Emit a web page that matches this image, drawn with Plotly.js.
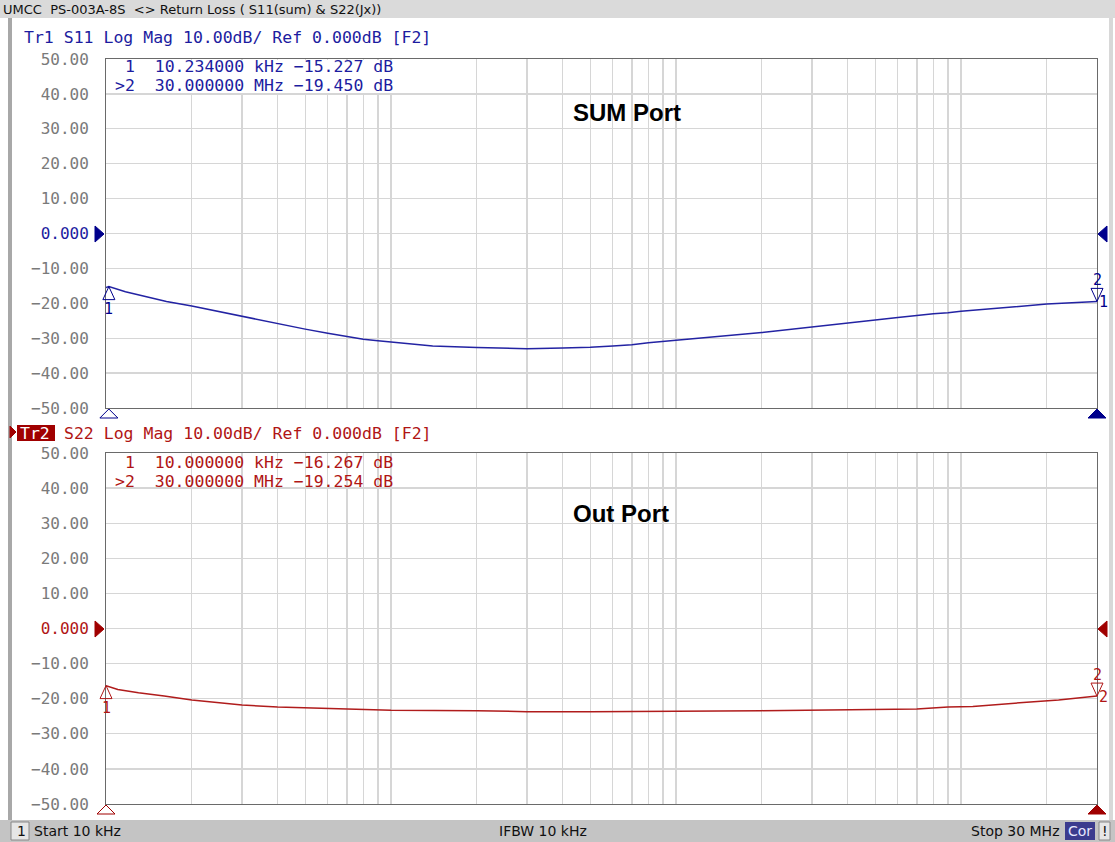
<!DOCTYPE html>
<html><head><meta charset="utf-8">
<script src="https://cdn.plot.ly/plotly-3.0.1.min.js"></script>
<style>html,body{margin:0;padding:0;background:#fff;}#chart{width:1115px;height:842px;}</style>
</head><body><div id="chart"></div>
<script>
// ---------------- data ----------------
const s11Freq = [10000, 10234, 11700, 16300, 20000, 30000, 40000, 50000, 60000, 70000, 80000, 90000,
  100000, 140000, 200000, 280000, 300000, 400000, 500000, 600000, 700000, 800000, 900000,
  1e6, 2e6, 3e6, 4e6, 5e6, 6e6, 7e6, 8e6, 9e6, 1e7, 2e7, 3e7];
const s11Val = [-15.5, -15.23, -16.7, -19.5, -20.8, -23.8, -25.9, -27.4, -28.6, -29.6, -30.3, -30.7,
  -31.1, -32.2, -32.7, -33.0, -33.0, -32.8, -32.6, -32.2, -31.9, -31.3, -30.9,
  -30.6, -28.4, -26.9, -25.7, -24.8, -24.1, -23.4, -23.0, -22.7, -22.3, -20.2, -19.45];

const s22Freq = [10000, 11000, 13000, 16000, 20000, 30000, 40000, 50000, 65000, 100000, 200000,
  300000, 500000, 800000, 1e6, 2e6, 3e6, 5e6, 7e6, 9e6, 1.1e7, 1.7e7, 2.2e7, 3e7];
const s22Val = [-16.27, -17.4, -18.3, -19.2, -20.4, -21.8, -22.4, -22.6, -22.9, -23.3, -23.4,
  -23.7, -23.7, -23.7, -23.6, -23.4, -23.2, -23.1, -22.9, -22.4, -22.2, -21.0, -20.4, -19.25];

const s11MarkerFreq = [10234, 3e7];
const s11MarkerVal = [-15.227, -19.450];
const s22MarkerFreq = [10000, 3e7];
const s22MarkerVal = [-16.267, -19.254];

const yTickVals = [50, 40, 30, 20, 10, 0, -10, -20, -30, -40, -50];
const yTickText = ["50.00", "40.00", "30.00", "20.00", "10.00", "0.000", "\u221210.00", "\u221220.00", "\u221230.00", "\u221240.00", "\u221250.00"];

const s11Readout = [" 1  10.234000 kHz \u221215.227 dB", ">2  30.000000 MHz \u221219.450 dB"];
const s22Readout = [" 1  10.000000 kHz \u221216.267 dB", ">2  30.000000 MHz \u221219.254 dB"];

const windowTitle = "UMCC  PS-003A-8S  &lt;&gt; Return Loss ( S11(sum) &amp; S22(Jx))";
const tr1Title = "Tr1 S11 Log Mag 10.00dB/ Ref 0.000dB [F2]";
const tr2Title = "S22 Log Mag 10.00dB/ Ref 0.000dB [F2]";
const panelLabels = ["SUM Port", "Out Port"];
const fStart = 1e4, fStop = 3e7;

// ---------------- geometry helpers ----------------
const W = 1115, H = 842, L = 106, R = 18, T = 59, B = 38;
const PW = W - L - R, PH = H - T - B;
const px = x => (x - L) / PW;
const py = y => (H - B - y) / PH;
const lx0 = Math.log10(fStart), lx1 = Math.log10(fStop);
const fx = f => (Math.log10(f) - lx0) / (lx1 - lx0);

const BLUE = '#2323a3', BLUE_T = '#1c1ca0', NAVY = '#00008c';
const RED = '#b01c1c', RED_T = '#b01515', DRED = '#a00000';
const MONO = 'DejaVu Sans Mono';
const SANS = 'DejaVu Sans';
const MS = 16.5;

function yTickTextColored(col) {
  return yTickText.map((t, i) => yTickVals[i] === 0 ? `<span style="color:${col}">${t}</span>` : t);
}

const traces = [
  {x: s11Freq, y: s11Val, xaxis: 'x', yaxis: 'y', mode: 'lines', line: {color: BLUE, width: 1.5}, hoverinfo: 'none'},
  {x: s22Freq, y: s22Val, xaxis: 'x2', yaxis: 'y2', mode: 'lines', line: {color: RED, width: 1.5}, hoverinfo: 'none'}
];

const topDom = [py(408), 1];
const botDom = [0, py(453)];

function xAx(anchor) {
  return {type: 'log', range: [lx0, lx1], dtick: 'D1', showticklabels: false, ticks: '',
    showgrid: true, gridcolor: '#d6d6d6', gridwidth: 1.3, showline: true, mirror: true,
    linecolor: '#6a6a6a', linewidth: 1, anchor: anchor, zeroline: false};
}
function yAx(dom, anchor, col) {
  return {domain: dom, range: [-50, 50], tickvals: yTickVals, ticktext: yTickTextColored(col),
    ticks: '', ticklabelstandoff: 13, tickfont: {family: MONO, size: 16, color: '#7a7a7a'},
    showgrid: true, gridcolor: '#d6d6d6', gridwidth: 1.3, zeroline: false, showline: true, mirror: true,
    linecolor: '#6a6a6a', linewidth: 1, anchor: anchor};
}

const shapes = [];
const ann = [];
function rectPx(x0, y0, x1, y1, fill, line) {
  shapes.push({type: 'rect', xref: 'paper', yref: 'paper', x0: px(x0), x1: px(x1), y0: py(y1), y1: py(y0),
    fillcolor: fill, line: line || {width: 0}, layer: 'above'});
}
function pathPx(pts, fill, stroke) {
  const d = 'M' + pts.map(p => px(p[0]) + ',' + py(p[1])).join('L') + 'Z';
  shapes.push({type: 'path', xref: 'paper', yref: 'paper', path: d,
    fillcolor: fill || 'rgba(0,0,0,0)', line: {color: stroke, width: 1}, layer: 'above'});
}
function textPx(x, y, text, opts) {
  ann.push(Object.assign({xref: 'paper', yref: 'paper', x: px(x), y: py(y), text: text, showarrow: false,
    xanchor: 'left', yanchor: 'middle', font: {family: MONO, size: MS, color: '#000'}}, opts || {}));
}
const esc = s => s.replace(/&/g, '&amp;').replace(/</g, '&lt;').replace(/>/g, '&gt;').replace(/ /g, '\u00a0');

// window frame
rectPx(0, 0, 1115, 18, '#dadada');
textPx(1, 9, windowTitle, {font: {family: SANS, size: 13, color: '#111'}});
rectPx(8, 18, 12, 820, '#a8a8a8');
rectPx(1109, 18, 1113, 820, '#d8d8d8');
rectPx(0, 820, 1115, 842, '#c4c4c4');
rectPx(11, 822, 29, 840, '#e6e6e6', {color: '#888', width: 1});
textPx(15, 831, '1', {font: {family: SANS, size: 14, color: '#111'}});
textPx(32, 831, 'Start 10 kHz', {font: {family: SANS, size: 14, color: '#111'}});
textPx(543, 831, 'IFBW 10 kHz', {xanchor: 'center', font: {family: SANS, size: 14, color: '#111'}});
textPx(1062, 831, 'Stop 30 MHz', {xanchor: 'right', font: {family: SANS, size: 14, color: '#111'}});
rectPx(1065, 822, 1095, 840, '#3b3b8e');
textPx(1080, 831, 'Cor', {xanchor: 'center', font: {family: SANS, size: 14, color: '#e8e8ff'}});
rectPx(1099, 822, 1110, 840, '#e6e6e6', {color: '#888', width: 1});
textPx(1104.5, 831, '!', {xanchor: 'center', font: {family: SANS, size: 14, color: '#111'}});

// trace headers
textPx(22, 37, esc(tr1Title), {font: {family: MONO, size: MS, color: BLUE_T}});
pathPx([[10, 426], [16, 432], [10, 438]], DRED, DRED);
rectPx(17, 425, 55, 441, '#a00000');
textPx(18, 433, 'Tr2', {font: {family: MONO, size: MS, color: '#fff'}});
textPx(62, 433, esc(tr2Title), {font: {family: MONO, size: MS, color: RED_T}});

// readouts: white backing over the grid for the top one
rectPx(107, 60, 398, 93, '#ffffff');
function readout(lines, yc, col) {
  textPx(114, yc - 9.8, esc(lines[0]), {borderpad: 0, font: {family: MONO, size: MS, color: col}});
  textPx(114, yc + 9.8, esc(lines[1]), {borderpad: 0, font: {family: MONO, size: MS, color: col}});
}
readout(s11Readout, 76, BLUE_T);
readout(s22Readout, 472, RED_T);

// panel labels
textPx(627, 112, '<b>' + panelLabels[0] + '</b>', {xanchor: 'center', font: {family: 'Liberation Sans', size: 24, color: '#000'}});
textPx(621, 513, '<b>' + panelLabels[1] + '</b>', {xanchor: 'center', font: {family: 'Liberation Sans', size: 24, color: '#000'}});

// reference level triangles & marker position triangles on the x axis
function panelDeco(yZero, yBottom, col, fq) {
  pathPx([[95, yZero - 8], [104, yZero], [95, yZero + 8]], col, col);
  pathPx([[1107, yZero - 8], [1098, yZero], [1107, yZero + 8]], col, col);
  const xa = L + fx(fq[0]) * PW, xb = L + fx(fq[1]) * PW;
  pathPx([[xa, yBottom + 1], [xa - 9, yBottom + 10], [xa + 9, yBottom + 10]], '#fff', col);
  pathPx([[xb, yBottom + 1], [xb - 9, yBottom + 10], [xb + 9, yBottom + 10]], col, col);
}
panelDeco(234, 408, NAVY, s11MarkerFreq);
panelDeco(629, 804, DRED, s22MarkerFreq);

// data markers
function markerDeco(fq, val, yref, col, rightLabel) {
  const x1 = fx(fq[0]);
  shapes.push({type: 'path', xref: 'paper', yref: yref, xsizemode: 'pixel', ysizemode: 'pixel',
    xanchor: x1, yanchor: val[0], path: 'M0,0L-6,-13L6,-13Z', fillcolor: 'rgba(0,0,0,0)',
    line: {color: col, width: 1}, layer: 'above'});
  ann.push({xref: 'paper', yref: yref, x: x1, y: val[0], yshift: -22, text: '1', showarrow: false,
    xanchor: 'center', yanchor: 'middle', font: {family: MONO, size: 15, color: col}});
  const x2 = fx(fq[1]);
  shapes.push({type: 'path', xref: 'paper', yref: yref, xsizemode: 'pixel', ysizemode: 'pixel',
    xanchor: x2, yanchor: val[1], path: 'M0,0L-6,13L6,13Z', fillcolor: 'rgba(0,0,0,0)',
    line: {color: col, width: 1}, layer: 'above'});
  ann.push({xref: 'paper', yref: yref, x: x2, y: val[1], yshift: 21, text: '2', showarrow: false,
    xanchor: 'center', yanchor: 'middle', font: {family: MONO, size: 15, color: col}});
  ann.push({xref: 'paper', yref: yref, x: x2, y: val[1], xshift: 0, yshift: -1, text: rightLabel, showarrow: false,
    xanchor: 'left', yanchor: 'middle', font: {family: MONO, size: 15, color: col}});
}
markerDeco(s11MarkerFreq, s11MarkerVal, 'y', NAVY, '1');
markerDeco(s22MarkerFreq, s22MarkerVal, 'y2', RED_T, '2');

const layout = {
  width: W, height: H, margin: {l: L, r: R, t: T, b: B},
  paper_bgcolor: '#fff', plot_bgcolor: '#fff', showlegend: false,
  xaxis: xAx('y'), yaxis: yAx(topDom, 'x', BLUE_T),
  xaxis2: xAx('y2'), yaxis2: yAx(botDom, 'x2', RED_T),
  shapes: shapes, annotations: ann
};
Plotly.newPlot('chart', traces, layout, {staticPlot: true});
</script></body></html>
